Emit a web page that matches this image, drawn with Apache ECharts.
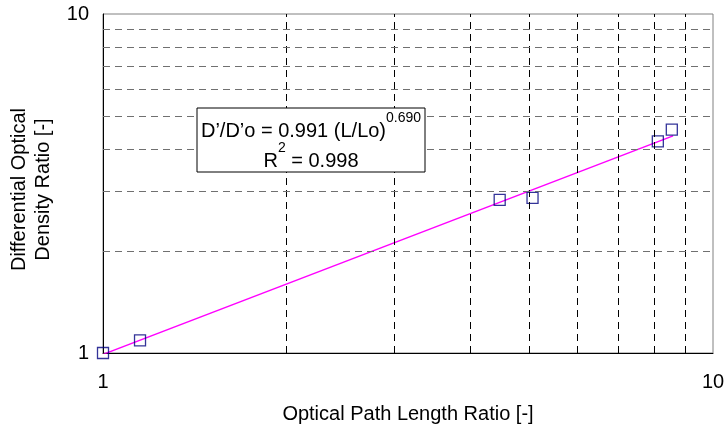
<!DOCTYPE html>
<html>
<head>
<meta charset="utf-8">
<script src="https://cdn.jsdelivr.net/npm/echarts@6/dist/echarts.min.js"></script>
<style>
  html, body { margin: 0; padding: 0; background: #fff; }
  #main { width: 727px; height: 430px; }
</style>
</head>
<body>
<div id="main"></div>
<script>
// 测量点 (L/Lo, D'/D'o)
var pathRatio = [1, 1.15, 4.47, 5.06, 8.12, 8.56];
var densityRatio = [1, 1.09, 2.83, 2.87, 4.21, 4.56];
// 拟合线端点 D'/D'o = 0.991 (L/Lo)^0.690
var fitX = [1, 8.6];
var fitY = [0.991, 4.37];
// 网格线
var gridX = [2, 3, 4, 5, 6, 7, 8, 9];
var gridY = [2, 3, 4, 5, 6, 7, 8, 9];

var font = 'Liberation Sans, Arial, sans-serif';

var points = pathRatio.map(function (v, i) { return [v, densityRatio[i]]; });
var fitLine = fitX.map(function (v, i) { return [v, fitY[i]]; });

var myChart = echarts.init(document.getElementById('main'));

var option = {
	animation: false,
	backgroundColor: '#fff',
	textStyle: { fontFamily: font, color: '#000' },
	grid: {
		left: 103,
		right: 14,
		top: 14,
		bottom: 77,
		outerBoundsMode: 'none',
		containLabel: false,
		show: true,
		borderColor: '#808080',
		borderWidth: 1
	},
	xAxis: {
		type: 'log',
		logBase: 10,
		min: 1,
		max: 10,
		name: 'Optical Path Length Ratio [-]',
		nameLocation: 'middle',
		nameGap: 51,
		nameTextStyle: { fontSize: 20, color: '#000', fontFamily: font },
		axisLine: { show: true, lineStyle: { color: '#000', width: 1 } },
		axisTick: { show: false },
		splitLine: { show: false },
		axisLabel: { fontSize: 20, color: '#000', margin: 19, fontFamily: font }
	},
	yAxis: {
		type: 'log',
		logBase: 10,
		min: 1,
		max: 10,
		name: 'Differential Optical\nDensity Ratio [-]',
		nameLocation: 'middle',
		nameGap: 47,
		nameTextStyle: { fontSize: 20, color: '#000', fontFamily: font, lineHeight: 24, padding: [0, 12, 0, 0] },
		axisLine: { show: true, lineStyle: { color: '#000', width: 1 } },
		axisTick: { show: false },
		splitLine: { show: false },
		axisLabel: { fontSize: 20, color: '#000', margin: 14, fontFamily: font }
	},
	series: [
		{
			name: 'gridX',
			type: 'line',
			data: [],
			silent: true,
			markLine: {
				silent: true,
				symbol: 'none',
				label: { show: false },
				lineStyle: { color: '#000', type: [7, 5], width: 1 },
				data: gridX.map(function (v) { return { xAxis: v }; })
			}
		},
		{
			name: 'gridY',
			type: 'line',
			data: [],
			silent: true,
			markLine: {
				silent: true,
				symbol: 'none',
				label: { show: false },
				lineStyle: { color: '#707070', type: [7, 5], width: 1 },
				data: gridY.map(function (v) { return { yAxis: v }; })
			}
		},
		{
			name: 'fit',
			type: 'line',
			data: fitLine,
			showSymbol: false,
			symbol: 'none',
			lineStyle: { color: '#FF00FF', width: 1.5 },
			z: 3
		},
		{
			name: 'data',
			type: 'scatter',
			data: points,
			symbol: 'rect',
			symbolSize: 11,
			clip: false,
			itemStyle: { color: 'transparent', borderColor: '#000080', borderWidth: 1.3 },
			z: 4
		}
	],
	graphic: [
		{
			type: 'rect',
			shape: { x: 197, y: 108, width: 228, height: 64 },
			style: { fill: '#fff', stroke: '#000', lineWidth: 1 },
			z: 10
		},
		{
			type: 'text',
			x: 311,
			y: 111,
			style: {
				text: '{a|D\u2019/D\u2019o = 0.991 (L/Lo)}{s|0.690}\n{a|R}{s|2}{a| = 0.998}',
				align: 'center',
				verticalAlign: 'top',
				fill: '#000',
				rich: {
					a: { fontSize: 20, fontFamily: font, color: '#000', lineHeight: 30, verticalAlign: 'bottom' },
					s: { fontSize: 14, fontFamily: font, color: '#000', lineHeight: 21, verticalAlign: 'top' }
				}
			},
			z: 11
		}
	]
};

myChart.setOption(option);
</script>
</body>
</html>
